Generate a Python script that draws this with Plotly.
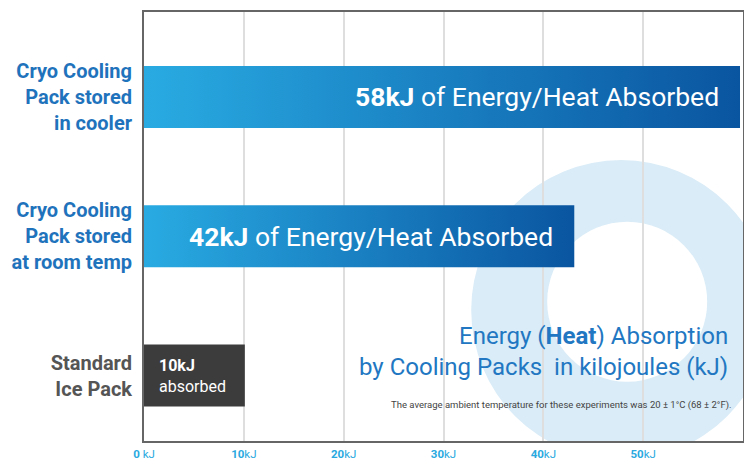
import plotly.graph_objects as go

# ---- data ----
categories = [
    "Cryo Cooling<br>Pack stored<br>in cooler",
    "Cryo Cooling<br>Pack stored<br>at room temp",
    "Standard<br>Ice Pack",
]
category_colors = ["#1f73bc", "#1f73bc", "#555555"]
energy_kj = [58, 42, 10]                 # labelled values
bar_extent_kj = [59.7, 43.1, 10.1]       # drawn bar lengths
x_tick_values = [0, 10, 20, 30, 40, 50, 60]
x_tick_labels = ["<b>0</b> kJ", "<b>10</b>kJ", "<b>20</b>kJ", "<b>30</b>kJ",
                 "<b>40</b>kJ", "<b>50</b>kJ", "<b>60</b>kJ"]

FONT = "Roboto"
BLUE_L = "#29abe2"
BLUE_D = "#0a55a0"
GRAY_BAR = "#3c3c3c"
HALF = 0.223

# page has an 8px body margin; size the figure so the page does not overflow
OFF = 8
W, H = 752 - 2 * OFF, 468 - 2 * OFF
L, R, T, B = 144 - OFF, 1, 12 - OFF, H - (441 - OFF)
pw, ph = W - L - R, H - T - B

fig = go.Figure()

for i, (ext, val) in enumerate(zip(bar_extent_kj, energy_kj)):
    xs = [0, ext, ext, 0, 0]
    ys = [i - HALF, i - HALF, i + HALF, i + HALF, i - HALF]
    kw = dict(x=xs, y=ys, fill="toself", mode="lines", line=dict(width=0),
              hoverinfo="skip", showlegend=False)
    if i < 2:
        kw["fillgradient"] = dict(type="horizontal",
                                  colorscale=[[0, BLUE_L], [1, BLUE_D]])
    else:
        kw["fillcolor"] = GRAY_BAR
    fig.add_trace(go.Scatter(**kw))

annotations = []
for i, (ext, val) in enumerate(zip(bar_extent_kj, energy_kj)):
    if i < 2:
        annotations.append(dict(
            x=ext, y=i, xref="x", yref="y", xanchor="right", yanchor="middle",
            xshift=-19, showarrow=False,
            text=f"<b>{val}kJ</b> of Energy/Heat Absorbed",
            font=dict(family=FONT, size=26.5, color="white")))
    else:
        annotations.append(dict(
            x=0, y=i, xref="x", yref="y", xanchor="left", yanchor="middle",
            xshift=13, showarrow=False, align="left",
            text=f"<b>{val}kJ</b><br>absorbed",
            font=dict(family=FONT, size=16, color="white")))

# title / footnote placed by page pixel position (converted to paper coords)
annotations.append(dict(
    x=730, y=351, xref="paper", yref="paper", showarrow=False,
    text="Energy (<b>Heat</b>) Absorption<br>by Cooling Packs  in kilojoules (kJ)",
    xanchor="right", yanchor="middle", align="right",
    font=dict(family=FONT, size=24, color="#2277c2")))
annotations.append(dict(
    x=733, y=405, xref="paper", yref="paper", showarrow=False,
    text="The average ambient temperature for these experiments was 20 ± 1°C (68 ± 2°F).",
    xanchor="right", yanchor="middle",
    font=dict(family=FONT, size=9.5, color="#444444")))
for a in annotations[-2:]:
    a["x"] = (a["x"] - OFF - L) / pw
    a["y"] = 1 - (a["y"] - OFF - T) / ph

shapes = [
    dict(type="circle", layer="below", xref="x", yref="y",
         xsizemode="pixel", ysizemode="pixel", xanchor=47.8, yanchor=1.53,
         x0=-150, x1=150, y0=-150, y1=150,
         fillcolor="#daecf7", line=dict(width=0)),
    dict(type="circle", layer="below", xref="x", yref="y",
         xsizemode="pixel", ysizemode="pixel", xanchor=48.4, yanchor=1.47,
         x0=-80, x1=80, y0=-80, y1=80,
         fillcolor="white", line=dict(width=0)),
]

tick_text = [f'<span style="color:{c}"><b>{t}</b></span>'
             for t, c in zip(categories, category_colors)]

fig.update_layout(
    width=W, height=H,
    margin=dict(l=L, r=R, t=T, b=B, autoexpand=False),
    paper_bgcolor="white", plot_bgcolor="white",
    font=dict(family=FONT),
    annotations=annotations,
    shapes=shapes,
    xaxis=dict(range=[0, 60], tickvals=x_tick_values, ticktext=x_tick_labels,
               showgrid=True, gridcolor="#dedede", gridwidth=1.5,
               showline=True, linecolor="#666666", linewidth=2, mirror=True,
               zeroline=False, ticks="", ticklabelstandoff=1, automargin=False,
               tickfont=dict(family=FONT, size=11.5, color="#29a9e0"),
               fixedrange=True),
    yaxis=dict(range=[2.47, -0.61], tickvals=[0, 1, 2], ticktext=tick_text,
               showgrid=False, showline=True, linecolor="#666666", linewidth=2,
               mirror=True, zeroline=False, ticks="", ticklabelstandoff=6,
               automargin=False,
               tickfont=dict(family=FONT, size=20, color="#1f73bc"),
               fixedrange=True),
)

fig.write_html("out.html")
